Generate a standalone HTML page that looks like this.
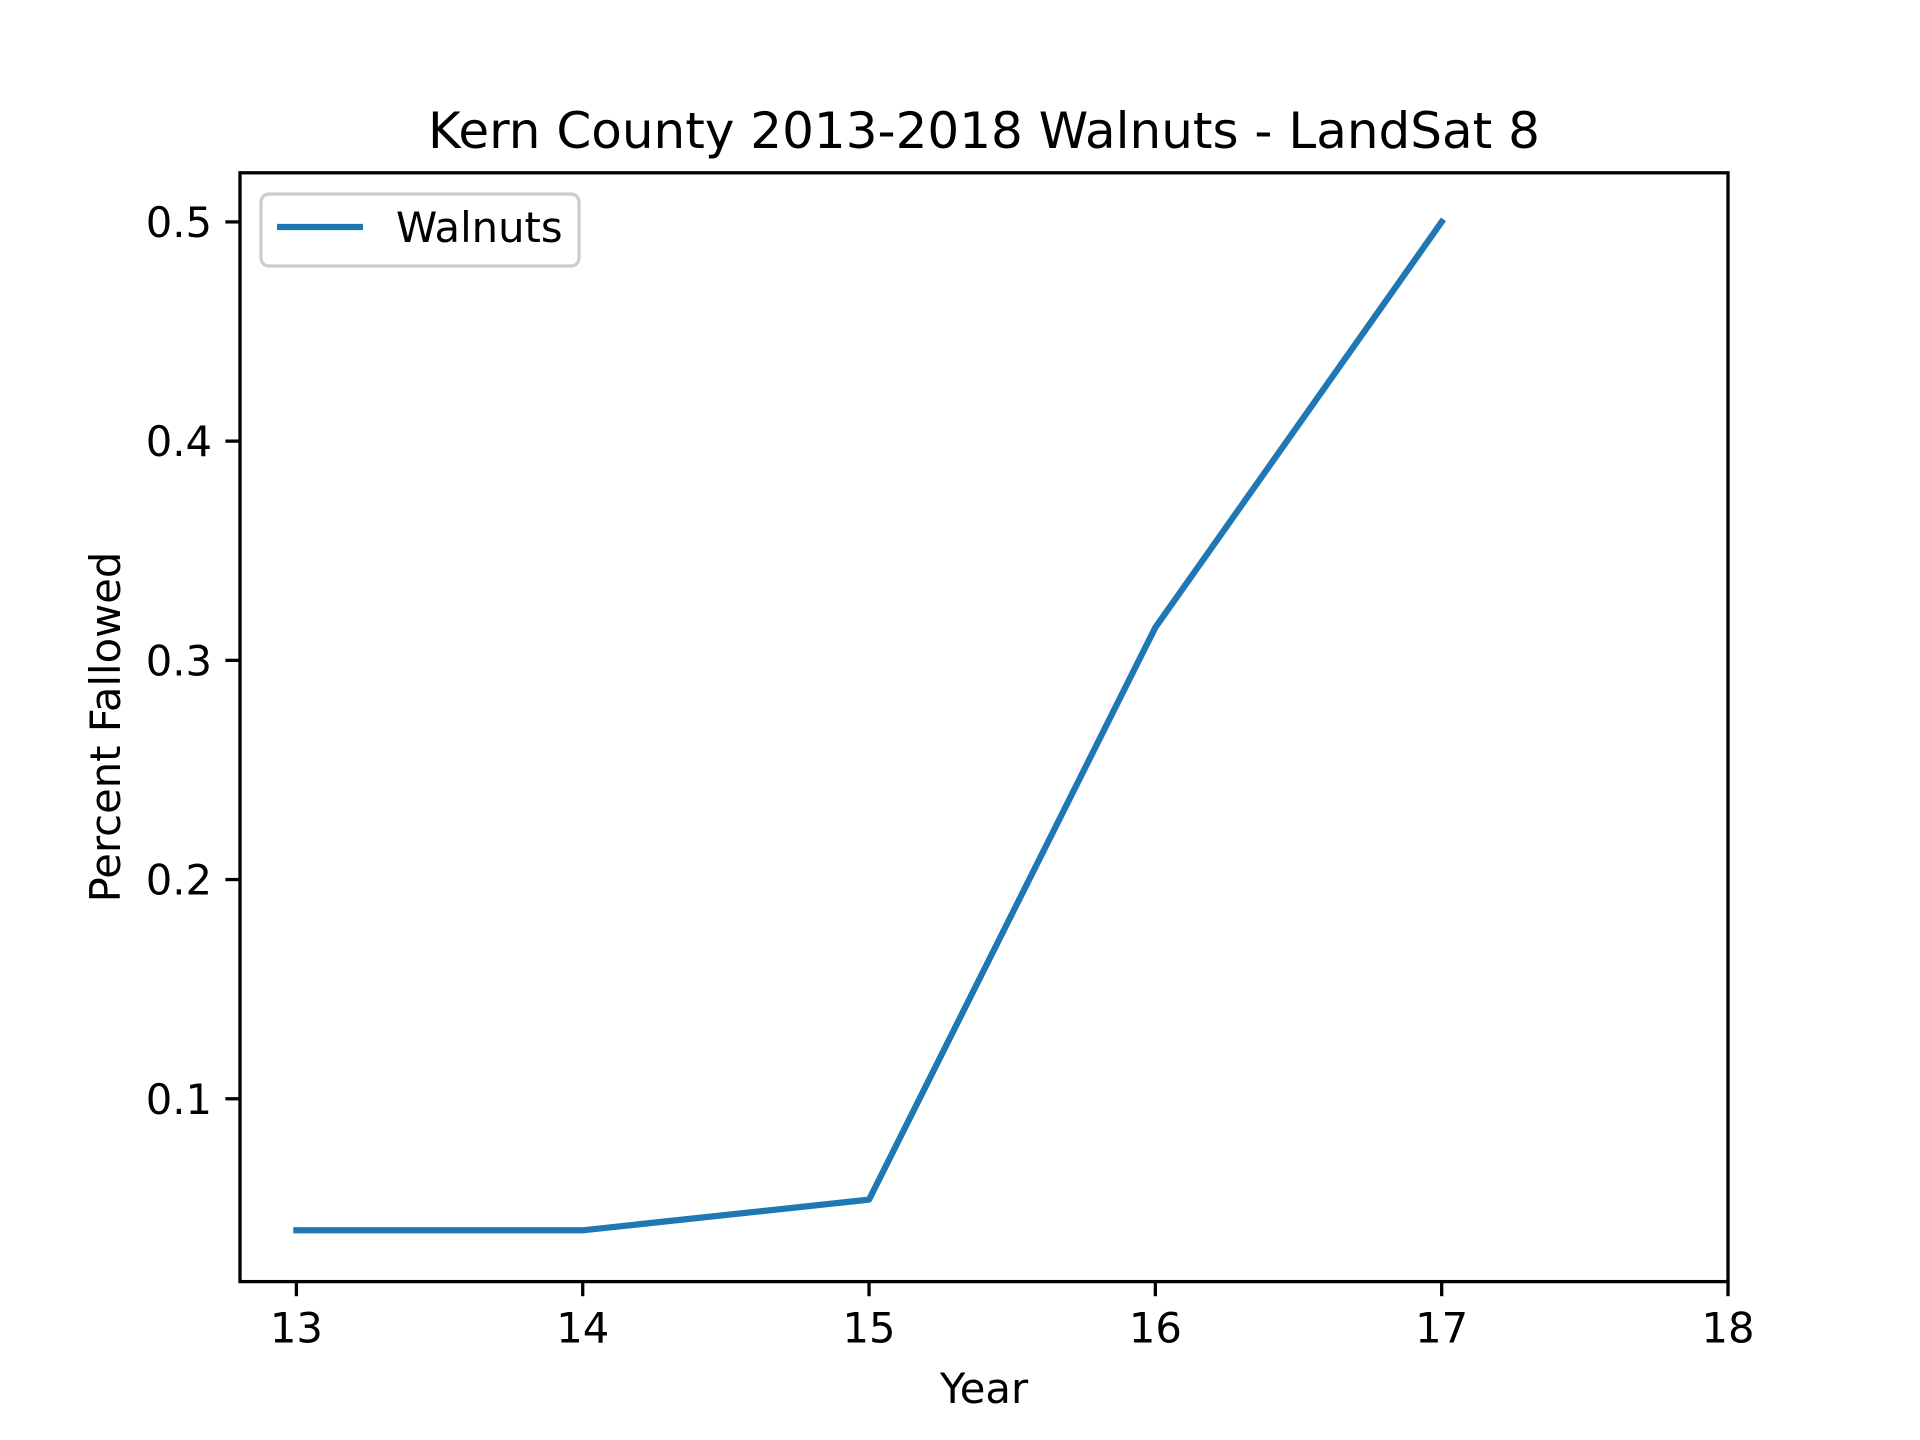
<!DOCTYPE html>
<html><head><meta charset="utf-8"><style>
html,body{margin:0;padding:0;background:#fff}
svg{display:block}
text{font-family:"DejaVu Sans","Liberation Sans",sans-serif;fill:#000}
</style></head><body>
<svg id="chart" width="1920" height="1440" viewBox="0 0 1920 1440">
<rect width="1920" height="1440" fill="#fff"/>
<text x="984" y="148" font-size="50" text-anchor="middle">Kern County 2013-2018 Walnuts - LandSat 8</text>
<g id="xticks"></g>
<g id="yticks"></g>
<g id="series"></g>
<rect x="240" y="172.8" width="1488" height="1108.8" fill="none" stroke="#000" stroke-width="3.3"/>
<text x="984" y="1403" font-size="41.7" text-anchor="middle">Year</text>
<text transform="translate(120,727) rotate(-90)" font-size="41.7" text-anchor="middle">Percent Fallowed</text>
<g>
<rect x="261" y="194" width="318" height="72" rx="8" fill="#fff" fill-opacity="0.8" stroke="#ccc" stroke-width="3.3"/>
<line x1="277" y1="227" x2="363" y2="227" stroke="#1f77b4" stroke-width="6.25"/>
<text x="396" y="242" font-size="41.7">Walnuts</text>
</g>
</svg>
<script>
const years = [13, 14, 15, 16, 17];
const walnuts = [0.04, 0.04, 0.054, 0.315, 0.5];
const xTickValues = [13, 14, 15, 16, 17, 18];
const yTickValues = [0.1, 0.2, 0.3, 0.4, 0.5];
const yTickLabels = ["0.1", "0.2", "0.3", "0.4", "0.5"];

const NS = "http://www.w3.org/2000/svg";
const L = 240, R = 1728, T = 172.8, B = 1281.6;
const xMin = 12.803, xMax = 18.0, yMin = 0.0166, yMax = 0.5224;
const xs = v => L + (v - xMin) / (xMax - xMin) * (R - L);
const ys = v => B - (v - yMin) / (yMax - yMin) * (B - T);
function mk(tag, attrs, parent) {
  const e = document.createElementNS(NS, tag);
  for (const k in attrs) e.setAttribute(k, attrs[k]);
  parent.appendChild(e);
  return e;
}
const gx = document.getElementById('xticks');
xTickValues.forEach(v => {
  const x = xs(v);
  const t = mk('line', {x1: x, x2: x, y1: B, y2: B + 14.6, stroke: '#000', 'stroke-width': 3.3}, gx);
  
  
  const l = mk('text', {x: x, y: B + 61, 'font-size': 41.7, 'text-anchor': 'middle'}, gx);
  l.textContent = String(v);
  
  
});
const gy = document.getElementById('yticks');
yTickValues.forEach((v, i) => {
  const y = ys(v);
  const t = mk('line', {x1: L - 14.6, x2: L, y1: y, y2: y, stroke: '#000', 'stroke-width': 3.3}, gy);
  
  
  const l = mk('text', {x: L - 28, y: y + 15, 'font-size': 41.7, 'text-anchor': 'end'}, gy);
  l.textContent = yTickLabels[i];
  
  
});
const gs = document.getElementById('series');
const pts = years.map((yr, i) => xs(yr) + ',' + ys(walnuts[i])).join(' ');
const pl = mk('polyline', {points: pts, fill: 'none', stroke: '#1f77b4', 'stroke-width': 6.25, 'stroke-linejoin': 'round', 'stroke-linecap': 'square'}, gs);


</script>
</body></html>
